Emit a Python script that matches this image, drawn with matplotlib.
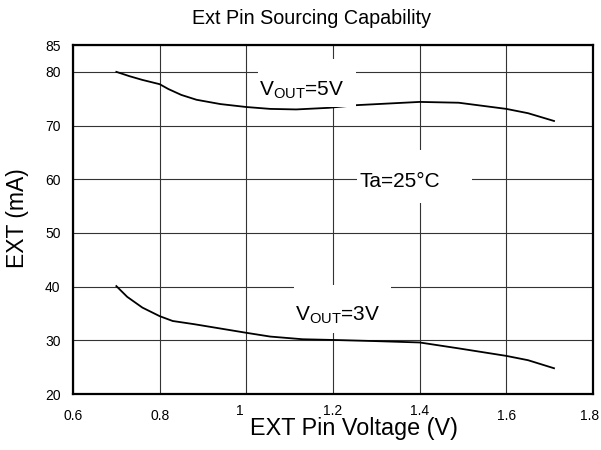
import matplotlib
matplotlib.use('Agg')
import matplotlib.pyplot as plt
from matplotlib.patches import Rectangle

plt.rcParams['font.family'] = ['Liberation Sans', 'DejaVu Sans']

# EXT pin voltage (V) vs EXT current (mA)
v5_x = [0.70, 0.73, 0.76, 0.80, 0.82, 0.85, 0.885, 0.94, 1.00, 1.055, 1.115, 1.19,
        1.255, 1.40, 1.49, 1.60, 1.65, 1.71]
v5_y = [80.0, 79.2, 78.5, 77.7, 76.8, 75.7, 74.8, 74.0, 73.45, 73.1, 73.0, 73.3,
        73.8, 74.4, 74.25, 73.1, 72.3, 70.85]
v3_x = [0.70, 0.725, 0.76, 0.80, 0.83, 0.88, 0.94, 1.00, 1.055, 1.13, 1.21, 1.30,
        1.40, 1.49, 1.60, 1.65, 1.71]
v3_y = [40.1, 38.1, 36.1, 34.5, 33.6, 33.0, 32.2, 31.4, 30.7, 30.2, 30.05, 29.85,
        29.6, 28.5, 27.1, 26.3, 24.8]

xticks = [0.6, 0.8, 1, 1.2, 1.4, 1.6, 1.8]
yticks = [20, 30, 40, 50, 60, 70, 80, 85]

fig = plt.figure(figsize=(6.01, 4.5), dpi=100)
ax = fig.add_axes([0.1215, 0.1244, 0.8652, 0.7756])

ax.plot(v5_x, v5_y, color='black', lw=1.3, zorder=3)
ax.plot(v3_x, v3_y, color='black', lw=1.3, zorder=3)

ax.set_xlim(0.6, 1.8)
ax.set_ylim(20, 85)
ax.set_xticks(xticks)
ax.set_xticklabels([])
ax.set_yticks(yticks)
ax.set_yticklabels([str(t) for t in yticks], fontsize=10)
ax.tick_params(length=0, pad=9)
ax.grid(True, color='#333333', lw=0.8)
for s in ax.spines.values():
    s.set_linewidth(1.6)
    s.set_color('black')

# x tick labels drawn by hand: in the original "1", "1.2", "1.4" sit a bit higher
tr = ax.get_xaxis_transform()
for t in xticks:
    up = t in (1, 1.2, 1.4)
    dx = {1: -0.016, 1.8: -0.009}.get(t, 0)
    ax.text(t + dx, -0.05 if up else -0.063, str(t), transform=tr, fontsize=10,
            ha='center', va='center', clip_on=False)

# white boxes behind the labels (they cut the grid and curves)
for (x0, y0, w, h) in [(1.027, 73.45, 0.226, 8.95), (1.255, 55.57, 0.266, 9.87),
                       (1.110, 31.4, 0.224, 8.9)]:
    ax.add_patch(Rectangle((x0, y0), w, h, facecolor='white', edgecolor='none', zorder=4))

ax.text(1.029, 75.69, r'V$_\mathregular{OUT}$=5V', fontsize=15, zorder=5)
ax.text(1.26, 58.6, 'Ta=25°C', fontsize=15, zorder=5)
ax.text(1.112, 33.78, r'V$_\mathregular{OUT}$=3V', fontsize=15, zorder=5)

fig.text(311 / 601, 1 - 18 / 450, 'Ext Pin Sourcing Capability', fontsize=14.2, ha='center', va='center')
fig.text(354 / 601, 1 - 429 / 450, 'EXT Pin Voltage (V)', fontsize=16.8, ha='center', va='center')
fig.text(18 / 601, 1 - 218 / 450, 'EXT (mA)', fontsize=16.5, ha='center', va='center', rotation=90)

fig.savefig('out.png', dpi=100)
